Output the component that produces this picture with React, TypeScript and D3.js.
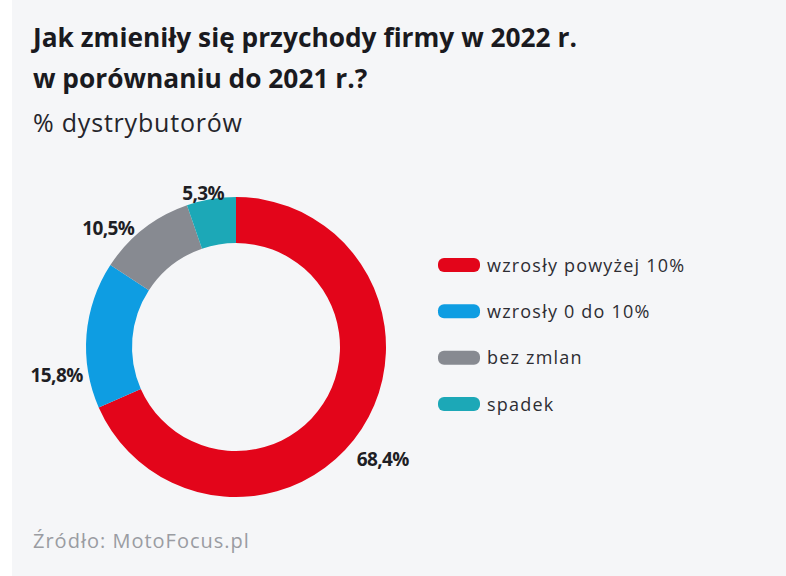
import React from "react";
import * as d3 from "d3";

const categories = ["wzrosły powyżej 10%", "wzrosły 0 do 10%", "bez zmlan", "spadek"];
const values = [68.4, 15.8, 10.5, 5.3];
const labels = ["68,4%", "15,8%", "10,5%", "5,3%"];
const colors = ["#e3051a", "#0e9de2", "#878a91", "#1ca8b7"];

const titleLines = ["Jak zmieniły się przychody firmy w 2022 r.", "w porównaniu do 2021 r.?"];
const subtitle = "% dystrybutorów";
const source = "Źródło: MotoFocus.pl";

const W = 786;
const H = 576;
const cx = 236;
const cy = 347;
const outer = 150;
const inner = 104;
const labelR = 180;
// small hand nudges so the data labels sit where the original put them
const labelNudge = [
  [-4, -6],
  [0, 23],
  [-17, 3],
  [-3, 3],
];

const App: React.FC = () => {
  const data = categories.map((c, i) => ({ name: c, value: values[i], label: labels[i], color: colors[i] }));
  const pie = d3
    .pie<(typeof data)[number]>()
    .value((d) => d.value)
    .sort(null);
  const arcs = pie(data);
  const arc = d3.arc<d3.PieArcDatum<(typeof data)[number]>>().innerRadius(inner).outerRadius(outer);
  const labelArc = d3.arc<d3.PieArcDatum<(typeof data)[number]>>().innerRadius(labelR).outerRadius(labelR);

  const legendY = d3.scalePoint<string>().domain(categories).range([265, 404]);

  return (
    <div style={{ position: "absolute", left: 0, top: 0 }}>
      <svg width={W} height={H} style={{ display: "block" }}>
        <rect x={0} y={0} width={W} height={H} fill="#ffffff" />
        <rect x={12} y={0} width={W - 12} height={H} fill="#f5f6f8" />
        <g fontFamily="'Open Sans', sans-serif" fill="#1a1a20">
          {titleLines.map((t, i) => (
            <text key={t} x={33} y={47 + i * 41} fontSize={26.3} fontWeight={700}>
              {t}
            </text>
          ))}
          <text x={33} y={132} fontSize={25} fill="#25252b" letterSpacing={0.8}>
            {subtitle}
          </text>
        </g>
        <g transform={`translate(${cx},${cy})`}>
          {arcs.map((a) => (
            <path key={a.data.name} d={arc(a) ?? ""} fill={a.data.color} />
          ))}
          {arcs.map((a, i) => {
            const [lx, ly] = labelArc.centroid(a);
            return (
              <text
                key={a.data.name + "l"}
                x={lx + labelNudge[i][0]}
                y={ly + 27 + labelNudge[i][1]}
                textAnchor="middle"
                fontFamily="'Open Sans', sans-serif"
                fontWeight={700}
                fontSize={19}
                fill="#1e1e24"
                letterSpacing={-0.6}
              >
                {a.data.label}
              </text>
            );
          })}
        </g>
        <g fontFamily="'Open Sans', sans-serif">
          {data.map((d) => (
            <g key={d.name} transform={`translate(438,${legendY(d.name)})`}>
              <rect x={0} y={-7} width={42} height={14} rx={6} ry={6} fill={d.color} />
              <text x={49} y={6.5} fontSize={18} fill="#2d2d33" letterSpacing={1.2}>
                {d.name}
              </text>
            </g>
          ))}
        </g>
        <text x={33} y={548} fontFamily="'Open Sans', sans-serif" fontSize={20} fill="#9a9ca2" letterSpacing={1}>
          {source}
        </text>
      </svg>
    </div>
  );
};

export default App;
